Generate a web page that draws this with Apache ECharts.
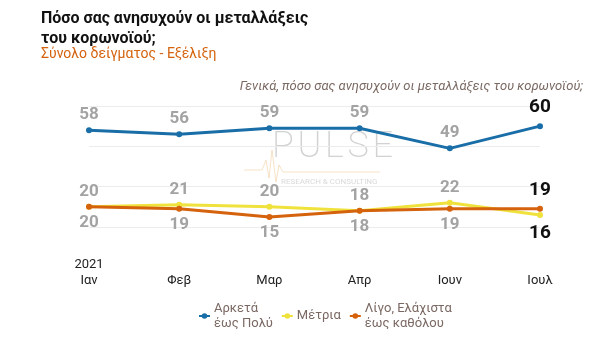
<!DOCTYPE html>
<html><head><meta charset="utf-8">
<script src="https://cdn.jsdelivr.net/npm/echarts@6/dist/echarts.min.js"></script>
<style>html,body{margin:0;padding:0;background:#fff}#c{width:600px;height:340px}</style>
</head><body><div id="c"></div>
<script>
const categories = ['2021\nΙαν', 'Φεβ', 'Μαρ', 'Απρ', 'Ιουν', 'Ιουλ'];
const seriesNames = ['Αρκετά\nέως Πολύ', 'Μέτρια', 'Λίγο, Ελάχιστα\nέως καθόλου'];
const muchValues = [58, 56, 59, 59, 49, 60];
const moderateValues = [20, 21, 20, 18, 22, 16];
const littleValues = [20, 19, 15, 18, 19, 19];
const yTicks = [10, 30, 50, 70];

const colors = ['#1a6ea8', '#f0e23c', '#d5620d'];
const F = 'Roboto, "Noto Sans", sans-serif';

function items(vals, lastPos) {
  return vals.map((v, i) => {
    if (i === vals.length - 1) {
      return {value: v, label: {position: lastPos, color: '#111', fontSize: 19, distance: 6}};
    }
    return {value: v};
  });
}

const chart = echarts.init(document.getElementById('c'));
const mkSeries = (name, vals, color, pos, lastPos, z) => ({
  name, type: 'line', data: items(vals, lastPos), z,
  symbol: 'circle', symbolSize: 6,
  lineStyle: {width: 3, color}, itemStyle: {color},
  label: {show: true, position: pos, distance: 4, color: '#a3a3a3', fontSize: 17, fontWeight: 'bold', fontFamily: F},
  emphasis: {disabled: true}
});
chart.setOption({
  animation: false,
  title: [
    {text: 'Πόσο σας ανησυχούν οι μεταλλάξεις\nτου κορωνοϊού;', left: 36, top: 4,
     textStyle: {fontFamily: F, fontSize: 16, fontWeight: 'bold', color: '#111', lineHeight: 20}},
    {text: 'Σύνολο δείγματος - Εξέλιξη', left: 36, top: 42,
     textStyle: {fontFamily: F, fontSize: 14, fontWeight: 'normal', color: '#d5620d'}},
    {text: 'Γενικά, πόσο σας ανησυχούν οι μεταλλάξεις του κορωνοϊού;', right: 12, top: 75,
     textStyle: {fontFamily: F, fontSize: 13, fontStyle: 'italic', fontWeight: 'normal', color: '#7a6862'}}
  ],
  graphic: [
    {type: 'polyline', z: 0, silent: true,
     shape: {points: [[244, 170], [262, 170], [266, 160], [269, 178], [272, 150], [276, 182], [279, 165], [283, 172], [300, 172], [380, 172]]},
     style: {stroke: 'rgba(235,190,130,0.45)', lineWidth: 1, fill: null}},
    {type: 'text', left: 272, top: 130, z: 0, silent: true,
     style: {text: 'P\u200AU\u200AL\u200AS\u200AE', font: '200 36px Roboto, sans-serif', fill: 'rgba(165,165,165,0.5)'}},
    {type: 'text', left: 281, top: 178, z: 0, silent: true,
     style: {text: 'RESEARCH & CONSULTING', font: '8px Roboto, sans-serif', fill: 'rgba(170,170,170,0.45)'}}
  ],
  color: colors,
  grid: {left: 89, right: 60, top: 106, bottom: 113},
  xAxis: {
    type: 'category', data: categories, boundaryGap: false,
    axisLine: {show: false}, axisTick: {show: false},
    axisLabel: {margin: 62, verticalAlign: 'bottom', color: '#222', fontSize: 13, fontFamily: F, lineHeight: 16}
  },
  yAxis: {
    type: 'value', min: yTicks[0], max: yTicks[yTicks.length - 1], interval: 20,
    axisLabel: {show: false}, axisLine: {show: false}, axisTick: {show: false},
    splitLine: {lineStyle: {color: '#ececec', width: 1}}
  },
  legend: {
    bottom: 4, left: 193, itemWidth: 11, itemHeight: 7, itemGap: 8,
    textStyle: {color: '#7a6862', fontSize: 13, fontFamily: F, lineHeight: 15, padding: [0, 0, 0, -1]},
    data: seriesNames
  },
  series: [
    mkSeries(seriesNames[0], muchValues, colors[0], 'top', 'top', 3),
    mkSeries(seriesNames[1], moderateValues, colors[1], 'top', 'bottom', 2),
    mkSeries(seriesNames[2], littleValues, colors[2], 'bottom', 'top', 3)
  ]
});
</script></body></html>
